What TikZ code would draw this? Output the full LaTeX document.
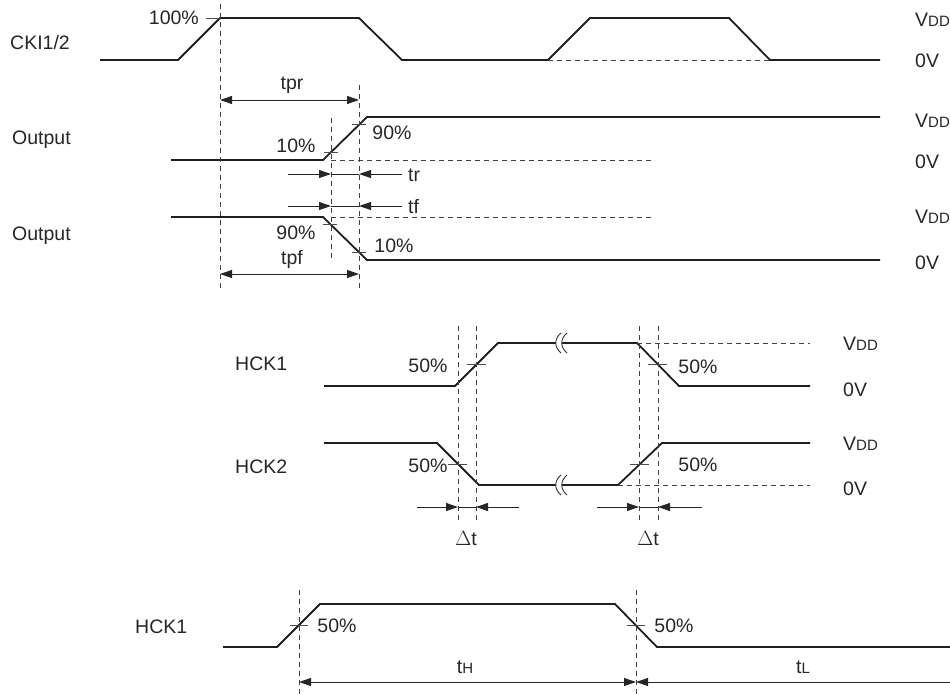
\documentclass[tikz,border=0pt]{standalone}
\usepackage{fontspec}
\setmainfont{Liberation Sans}
\usetikzlibrary{arrows.meta}
\newcommand\smc[1]{{\fontsize{15}{15}\selectfont #1}}
\begin{document}
\begin{tikzpicture}[x=1pt,y=-1pt,
  sig/.style={line width=1.8pt, draw=black!88},
  guide/.style={line width=0.8pt, dash pattern=on 5pt off 4pt, draw=black!75},
  tickmark/.style={line width=0.8pt, draw=black!70},
  dim/.style={line width=1pt, draw=black!85, >={Triangle[length=12pt,width=8pt]}},
  lbl/.style={inner sep=0pt, font=\fontsize{19.5}{22}\selectfont, text=black!85}]
\useasboundingbox (0,0) rectangle (950,694);
% ---------------- top: CKI1/2 and outputs ----------------
\draw[sig] (100,60) -- (178,60) -- (220,18) -- (359,18) -- (402,60) -- (548,60) -- (590,18) -- (729,18) -- (770,60) -- (880,60);
\draw[guide] (548,60) -- (770,60);
\draw[sig] (171,160) -- (323,160) -- (367,117) -- (880,117);
\draw[guide] (331,160) -- (655,160);
\draw[sig] (171,217) -- (323,217) -- (367,260) -- (880,260);
\draw[guide] (331,217) -- (655,217);
\draw[guide] (220,4) -- (220,288);
\draw[guide] (359,85) -- (359,288);
\draw[guide] (331,118) -- (331,260);
\draw[tickmark] (206,18) -- (220,18);
\draw[tickmark] (324,152) -- (338,152);
\draw[tickmark] (352,124) -- (366,124);
\draw[tickmark] (323,224) -- (337,224);
\draw[tickmark] (352,252) -- (366,252);
% dimension lines
\coordinate (tprA) at (220,100); \coordinate (tprB) at (359,100);
\draw[dim,<->] (tprA) -- (tprB);
\coordinate (trL) at (288,174); \coordinate (trA) at (331,174); \coordinate (trB) at (359,174); \coordinate (trR) at (402,174);
\draw[dim,->] (trL) -- (trA); \draw[dim] (trA) -- (trB); \draw[dim,->] (trR) -- (trB);
\coordinate (tfL) at (288,206); \coordinate (tfA) at (331,206); \coordinate (tfB) at (359,206); \coordinate (tfR) at (402,206);
\draw[dim,->] (tfL) -- (tfA); \draw[dim] (tfA) -- (tfB); \draw[dim,->] (tfR) -- (tfB);
\coordinate (tpfA) at (220,274); \coordinate (tpfB) at (359,274);
\draw[dim,<->] (tpfA) -- (tpfB);
% labels
\node[lbl,anchor=west] (lcki) at (10,43) {CKI1/2};
\node[lbl,anchor=west] (lout1) at (12,140) {Output};
\node[lbl,anchor=west] (lout2) at (12,236) {Output};
\node[lbl,anchor=east] (l100) at (199,18) {100\%};
\node[lbl] (ltpr) at (292,85) {tpr};
\node[lbl] (l10a) at (296,146) {10\%};
\node[lbl] (l90a) at (392,133) {90\%};
\node[lbl,anchor=west] (ltr) at (408,175) {tr};
\node[lbl,anchor=west] (ltf) at (408,207) {tf};
\node[lbl] (l90b) at (296,233) {90\%};
\node[lbl] (l10b) at (394,246) {10\%};
\node[lbl] (ltpf) at (292,259) {tpf};
\node[lbl,anchor=west] (v1) at (915,20) {V\smc{DD}};
\node[lbl,anchor=west] (z1) at (915,61) {0V};
\node[lbl,anchor=west] (v2) at (915,121) {V\smc{DD}};
\node[lbl,anchor=west] (z2) at (915,162) {0V};
\node[lbl,anchor=west] (v3) at (915,217) {V\smc{DD}};
\node[lbl,anchor=west] (z3) at (915,263) {0V};
% ---------------- middle: HCK1/HCK2 ----------------
\draw[sig] (324,386) -- (455,386) -- (498,343) -- (637,343) -- (679,386) -- (810,386);
\draw[guide] (637,343) -- (810,343);
\draw[sig] (324,443) -- (437,443) -- (479,485) -- (618,485) -- (662,443) -- (810,443);
\draw[guide] (618,485) -- (810,485);
\foreach \yy in {343,485} {
  \fill[white] (561,\yy-10) .. controls (554,\yy-4) and (554,\yy+4) .. (561,\yy+10) -- (567,\yy+10) .. controls (560,\yy+4) and (560,\yy-4) .. (567,\yy-10) -- cycle;
  \draw[line width=0.9pt, draw=black!80] (561,\yy-10) .. controls (554,\yy-4) and (554,\yy+4) .. (561,\yy+10);
  \draw[line width=0.9pt, draw=black!80] (567,\yy-10) .. controls (560,\yy-4) and (560,\yy+4) .. (567,\yy+10);
}
\foreach \xx in {458,476,639,658} { \draw[guide] (\xx,326) -- (\xx,520); }
\draw[tickmark] (467,364) -- (486,364);
\draw[tickmark] (648,364) -- (667,364);
\draw[tickmark] (448,464) -- (467,464);
\draw[tickmark] (630,464) -- (649,464);
\coordinate (d1L) at (417,507); \coordinate (d1A) at (458,507); \coordinate (d1B) at (476,507); \coordinate (d1R) at (519,507);
\draw[dim,->] (d1L) -- (d1A); \draw[dim] (d1A) -- (d1B); \draw[dim,->] (d1R) -- (d1B);
\coordinate (d2L) at (597,507); \coordinate (d2A) at (639,507); \coordinate (d2B) at (658,507); \coordinate (d2R) at (702,507);
\draw[dim,->] (d2L) -- (d2A); \draw[dim] (d2A) -- (d2B); \draw[dim,->] (d2R) -- (d2B);
\node[lbl,anchor=west] (lh1) at (235,364) {HCK1};
\node[lbl,anchor=west] (lh2) at (235,467) {HCK2};
\node[lbl] (p1) at (428,366) {50\%};
\node[lbl] (p2) at (698,367) {50\%};
\node[lbl] (p3) at (428,466) {50\%};
\node[lbl] (p4) at (698,465) {50\%};
\node[lbl,anchor=west] (v4) at (843,344) {V\smc{DD}};
\node[lbl,anchor=west] (z4) at (843,390) {0V};
\node[lbl,anchor=west] (v5) at (843,444) {V\smc{DD}};
\node[lbl,anchor=west] (z5) at (843,489) {0V};
\node[lbl] (dt1) at (466,538) {$\Delta$t};
\node[lbl] (dt2) at (648,538) {$\Delta$t};
% ---------------- bottom: HCK1 tH / tL ----------------
\draw[sig] (223,647) -- (277,647) -- (320,604) -- (615,604) -- (657,647) -- (950,647);
\draw[guide] (299,590) -- (299,694);
\draw[guide] (636,590) -- (636,694);
\draw[tickmark] (290,625) -- (308,625);
\draw[tickmark] (627,625) -- (645,625);
\coordinate (thA) at (299,682); \coordinate (thB) at (636,682); \coordinate (tlR) at (950,682);
\draw[dim,<->] (thA) -- (thB);
\draw[dim,<-] (thB) -- (tlR);
\node[lbl,anchor=west] (lh3) at (135,627) {HCK1};
\node[lbl] (p5) at (337,626) {50\%};
\node[lbl] (p6) at (674,626) {50\%};
\node[lbl] (lth) at (465,667) {t\smc{H}};
\node[lbl] (ltl) at (803,667) {t\smc{L}};
\end{tikzpicture}
\end{document}
